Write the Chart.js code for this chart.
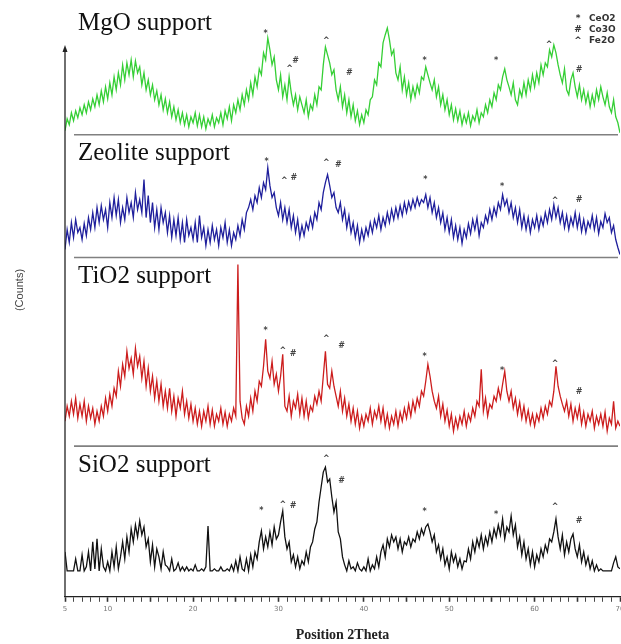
<!DOCTYPE html>
<html>
<head>
<meta charset="utf-8">
<title>XRD patterns</title>
<script src="https://cdn.jsdelivr.net/npm/chart.js@4/dist/chart.umd.min.js"></script>
<style>
  html, body { margin: 0; padding: 0; background: #fff; }
  #wrap { width: 621px; height: 644px; position: relative; }
</style>
</head>
<body>
<div id="wrap"><canvas id="xrd"></canvas></div>
<script>
// 2theta grid of the scans
var thetaStart = 5;
var thetaStep = 0.25;
var tickLabels = [5, 10, 20, 30, 40, 50, 60, 70];

// intensities (arbitrary counts), one value per 0.25 deg from 5 to 70
var mgoCounts = [
  4,16,10,22, 14,24,17,27, 20,30,22,33, 25,36,28,40, 30,44,33,48,
  36,52,40,58, 45,62,50,70, 55,72,60,75, 58,74,62,68, 50,62,45,55,
  40,50,35,44, 30,40,25,36, 22,33,18,28, 15,25,12,22, 10,20,8,18,
  12,22,9,20, 8,18,6,16, 10,20,8,17, 12,22,10,24, 16,28,14,30,
  22,35,25,40, 30,45,35,52, 40,58,48,66, 60,82,75,97, 85,70,78,55,
  45,60,38,50, 35,58,42,30, 40,25,38,30, 22,35,18,30, 25,40,30,48,
  45,70,88,80, 72,60,65,45, 35,48,28,40, 22,35,18,30, 14,24,10,20,
  12,25,20,35, 38,55,50,72, 68,92,100,107, 95,80,85,62, 55,68,45,58,
  40,52,35,48, 38,50,42,58, 55,68,60,52, 45,55,38,48, 30,40,25,35,
  20,30,15,26, 14,24,10,20, 12,22,9,19, 14,25,12,22, 18,30,22,35,
  28,42,35,50, 45,58,66,55, 48,40,52,35, 30,45,38,52, 40,55,45,60,
  48,62,52,70, 60,72,68,85, 78,90,82,70, 60,52,66,45, 40,55,62,48,
  38,50,35,45, 32,42,28,40, 30,45,35,48, 38,30,42,28, 22,35,18,12,
  2
];
var zeoliteCounts = [
  8,28,15,35, 20,38,25,30, 18,34,22,40, 28,45,30,50, 35,52,38,48,
  30,55,40,60, 42,58,35,50, 38,60,45,55, 40,65,48,58, 45,78,40,62,
  35,55,30,48, 28,50,35,45, 25,42,20,38, 22,40,18,35, 15,38,22,30,
  18,35,15,42, 20,30,12,28, 15,32,18,28, 12,30,20,35, 15,28,12,25,
  18,32,22,38, 28,45,50,58, 48,62,55,70, 60,75,68,90, 72,60,65,50,
  42,55,38,50, 35,48,30,42, 25,38,20,32, 22,35,28,40, 30,45,38,55,
  48,65,75,83, 72,60,65,50, 45,55,38,48, 30,42,25,35, 20,32,15,28,
  18,30,22,35, 25,38,30,42, 28,40,32,45, 35,48,38,50, 40,52,42,55,
  45,56,48,58, 50,60,52,58, 55,63,50,60, 45,55,40,50, 35,45,28,40,
  25,38,20,32, 18,30,14,28, 20,34,24,38, 28,40,22,35, 30,42,35,48,
  38,50,42,55, 48,63,52,58, 45,55,40,50, 35,48,30,42, 28,40,25,38,
  30,42,28,40, 32,45,35,48, 38,53,40,50, 35,45,30,42, 28,40,32,45,
  30,42,26,38, 25,36,30,42, 28,40,24,36, 30,44,35,40, 25,32,18,10,
  3
];
var tio2Counts = [
  25,40,30,45, 32,48,28,42, 30,45,25,40, 28,38,22,35, 25,40,30,48,
  35,52,40,58, 50,75,60,82, 70,95,78,88, 72,98,80,90, 68,85,60,78,
  55,70,48,65, 45,62,40,55, 38,58,35,50, 30,48,38,55, 32,45,28,42,
  25,38,22,35, 20,35,25,40, 22,36,20,32, 25,38,22,34, 20,32,25,38,
  30,182,45,28, 22,40,30,48, 35,55,45,65, 60,80,107,75, 68,85,62,72,
  55,70,92,40, 35,50,30,45, 38,52,32,48, 30,45,28,40, 35,50,42,55,
  45,70,95,62, 58,75,60,50, 40,55,35,48, 30,42,25,38, 22,35,18,30,
  20,32,25,38, 22,35,28,40, 25,38,20,32, 18,30,22,35, 20,34,25,38,
  28,42,30,45, 35,48,40,55, 50,65,82,70, 55,45,38,50, 30,42,25,36,
  20,32,15,28, 18,30,22,35, 20,32,25,38, 30,45,40,77, 35,48,30,42,
  38,50,45,58, 48,62,75,55, 45,55,38,48, 32,44,28,40, 25,36,22,32,
  20,32,25,38, 28,40,32,45, 40,55,80,60, 50,42,35,45, 30,42,25,38,
  28,40,22,34, 20,32,25,35, 18,30,22,32, 20,34,15,28, 22,45,18,25,
  20
];
var sio2Counts = [
  45,26,26,26, 26,38,26,26, 42,26,30,45, 26,55,28,58, 26,48,30,26,
  35,26,45,30, 50,28,40,55, 38,60,45,68, 55,72,60,76, 62,70,50,58,
  35,52,30,48, 40,28,45,32, 30,26,38,26, 28,34,26,30, 26,30,26,28,
  26,32,26,26, 28,26,30,71, 26,26,28,26, 26,30,26,26, 28,26,32,26,
  36,26,40,28, 26,38,26,42, 30,45,38,55, 66,48,60,50, 65,52,70,58,
  62,75,86,60, 48,55,35,42, 30,40,28,36, 32,45,35,50, 55,68,75,95,
  110,125,130,115, 118,100,85,95, 65,58,40,32, 26,36,28,30, 26,34,28,26,
  30,26,38,26, 32,28,40,30, 45,52,40,58, 50,62,55,60, 48,58,45,55,
  52,60,50,58, 55,65,58,68, 62,70,73,65, 55,62,45,52, 38,48,32,40,
  28,45,35,42, 30,38,28,36, 35,48,38,55, 45,58,50,62, 48,60,52,65,
  55,68,60,72, 62,78,58,70, 65,81,62,72, 50,60,42,55, 38,48,32,45,
  30,42,35,48, 40,52,45,58, 55,65,78,60, 48,62,42,55, 45,58,63,48,
  40,52,35,45, 32,40,28,36, 26,32,26,28, 26,26,26,26, 26,34,40,30,
  28
];

// phase markers: [symbol, 2theta, height]
var mgoMarks = [['*',28.5,101],['^',31.3,66],['#',32.0,74],['^',35.6,94],['#',38.3,62],['*',47.1,74],['*',55.5,74],['^',61.7,90],['#',65.2,65]];
var zeoliteMarks = [['*',28.6,96],['^',30.7,77],['#',31.8,80],['^',35.6,95],['#',37.0,93],['*',47.2,78],['*',56.2,71],['^',62.4,57],['#',65.2,58]];
var tio2Marks = [['*',28.5,115],['^',30.5,95],['#',31.7,92],['^',35.6,107],['#',37.4,100],['*',47.1,89],['*',56.2,75],['^',62.4,82],['#',65.2,54]];
var sio2Marks = [['*',28.0,86],['^',30.5,92],['#',31.7,91],['^',35.6,138],['#',37.4,116],['*',47.1,85],['*',55.5,82],['^',62.4,90],['#',65.2,76]];

var phaseSymbols = ['*', '#', '^'];
var phaseNames = ['CeO2', 'Co3O', 'Fe2O'];
var panelNames = ['MgO support', 'Zeolite support', 'TiO2 support', 'SiO2 support'];

// panel setup (top to bottom)
var panelIds = ['yMgO', 'yZeo', 'yTiO2', 'ySiO2'];
var panelHeights = [131, 123, 189, 151];
var panelColors = ['#35cf35', '#1f1f9c', '#cc1d1d', '#111111'];
var panelCounts = [mgoCounts, zeoliteCounts, tio2Counts, sio2Counts];
var panelMarks = [mgoMarks, zeoliteMarks, tio2Marks, sio2Marks];
var axisArrowValue = 87;

function toPoints(values) {
  return values.map(function(v, i) {
    return { x: thetaStart + i * thetaStep, y: v };
  });
}

var datasets = panelIds.map(function(id, k) {
  return {
    label: panelNames[k],
    data: toPoints(panelCounts[k]),
    yAxisID: id,
    borderColor: panelColors[k],
    borderWidth: 1.3,
    pointRadius: 0,
    tension: 0,
    fill: false
  };
});

var scales = {
  x: {
    type: 'linear',
    position: 'bottom',
    min: 5,
    max: 70,
    afterFit: function(s) { s.paddingRight = 0; },
    grid: {
      display: true,
      drawOnChartArea: false,
      drawTicks: true,
      tickLength: 5,
      tickColor: '#333',
      tickWidth: function(c) { return c.tick && c.tick.value % 5 === 0 ? 1.6 : 0.9; }
    },
    border: { display: true, color: '#222', width: 1.3 },
    ticks: {
      stepSize: 1,
      autoSkip: false,
      maxTicksLimit: 100,
      maxRotation: 0,
      padding: 3,
      color: '#777',
      font: { family: 'DejaVu Sans', size: 7 },
      callback: function(v) { return tickLabels.indexOf(v) >= 0 ? String(v) : ''; }
    },
    title: {
      display: true,
      text: 'Position 2Theta',
      color: '#222',
      font: { family: 'Liberation Serif', size: 14, weight: 'bold' },
      padding: { top: 11, bottom: 0 }
    }
  }
};

panelIds.forEach(function(id, k) {
  scales[id] = {
    type: 'linear',
    position: 'left',
    stack: 'panels',
    stackWeight: panelHeights[k],
    weight: panelIds.length - k,
    min: 0,
    max: panelHeights[k],
    grid: { display: false, drawTicks: false },
    border: { display: false },
    ticks: { display: false }
  };
});

var decorations = {
  id: 'decorations',
  beforeDatasetsDraw: function(chart) {
    var ctx = chart.ctx, area = chart.chartArea;
    ctx.save();
    ctx.strokeStyle = '#808080';
    ctx.lineWidth = 1.6;
    for (var k = 0; k < panelIds.length - 1; k++) {
      var y = chart.scales[panelIds[k]].bottom;
      ctx.beginPath();
      ctx.moveTo(area.left + 9, y);
      ctx.lineTo(area.right - 2, y);
      ctx.stroke();
    }
    ctx.restore();
  },
  afterDatasetsDraw: function(chart) {
    var ctx = chart.ctx, area = chart.chartArea, xs = chart.scales.x;
    ctx.save();

    // vertical axis with arrow head
    var yTop = chart.scales.yMgO.getPixelForValue(axisArrowValue);
    ctx.strokeStyle = '#222';
    ctx.lineWidth = 1.3;
    ctx.beginPath();
    ctx.moveTo(area.left, area.bottom);
    ctx.lineTo(area.left, yTop + 3);
    ctx.stroke();
    ctx.fillStyle = '#222';
    ctx.beginPath();
    ctx.moveTo(area.left, yTop - 3);
    ctx.lineTo(area.left - 2.5, yTop + 4);
    ctx.lineTo(area.left + 2.5, yTop + 4);
    ctx.closePath();
    ctx.fill();

    // panel titles
    ctx.fillStyle = '#111';
    ctx.font = '25px "Liberation Serif"';
    ctx.textAlign = 'left';
    ctx.textBaseline = 'middle';
    panelIds.forEach(function(id, k) {
      ctx.fillText(panelNames[k], area.left + 13, chart.scales[id].top + 19);
    });

    // phase markers
    ctx.fillStyle = '#444';
    ctx.font = 'bold 8px "DejaVu Sans"';
    ctx.textAlign = 'center';
    panelIds.forEach(function(id, k) {
      var ys = chart.scales[id];
      panelMarks[k].forEach(function(m) {
        ctx.fillText(m[0], xs.getPixelForValue(m[1]), ys.getPixelForValue(m[2]));
      });
    });

    // phase key, top right
    ctx.fillStyle = '#333';
    ctx.font = 'bold 9px "DejaVu Sans"';
    for (var i = 0; i < phaseNames.length; i++) {
      var ky = area.top + 15 + i * 11;
      ctx.textAlign = 'center';
      ctx.fillText(phaseSymbols[i], area.right - 42, ky);
      ctx.textAlign = 'left';
      ctx.fillText(phaseNames[i], area.right - 31, ky);
    }

    // y title
    ctx.translate(20, 290);
    ctx.rotate(-Math.PI / 2);
    ctx.textAlign = 'center';
    ctx.fillStyle = '#444';
    ctx.font = '11px "Liberation Sans"';
    ctx.fillText('(Counts)', 0, 0);
    ctx.restore();
  }
};

var chart = new Chart(document.getElementById('xrd'), {
  type: 'line',
  data: { datasets: datasets },
  options: {
    responsive: true,
    maintainAspectRatio: false,
    animation: false,
    devicePixelRatio: 1,
    layout: { padding: { left: 65, right: 1, top: 4, bottom: 0 } },
    plugins: {
      legend: { display: false },
      tooltip: { enabled: false }
    },
    scales: scales
  },
  plugins: [decorations]
});
</script>
</body>
</html>
